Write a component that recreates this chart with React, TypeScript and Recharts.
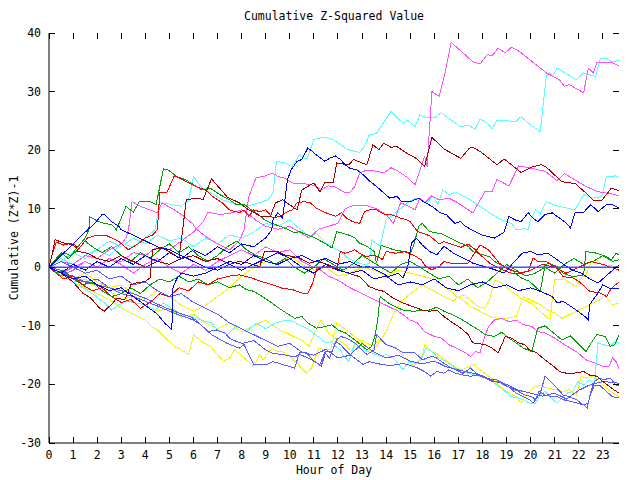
import React from 'react';
import { LineChart, Line, XAxis, YAxis } from 'recharts';

type P = [number, number];

const hourTicks = [0, 1, 2, 3, 4, 5, 6, 7, 8, 9, 10, 11, 12, 13, 14, 15, 16, 17, 18, 19, 20, 21, 22, 23];
const valueTicks = [-30, -20, -10, 0, 10, 20, 30, 40];
const X_MAX = 23.67;

const cyan1: P[] = [[0,0],[0.5,1.5],[1,0.5],[1.5,2],[2,3],[2.5,2],[3,4],[3.5,3.5],[4,5],[4.4,6.4],[4.6,11],[5,10.8],[5.5,10.4],[5.8,11.5],[6,15.5],[6.3,13.8],[6.7,12.7],[7.2,11.5],[7.6,11],[7.9,10.7],[8.3,10.5],[8.7,11],[9.1,11.5],[9.3,12.7],[9.45,18.1],[9.8,17.8],[10.1,17.2],[10.4,19.2],[10.7,18.4],[11,21.8],[11.4,22.2],[11.8,21.8],[12.4,20.1],[12.9,19.6],[13.1,20.6],[13.3,22.6],[13.6,22.9],[14.2,26.6],[14.7,24.6],[14.9,25.1],[15.2,24],[15.4,26],[15.7,25.5],[16,25.5],[16.3,26.4],[16.5,25.7],[17.1,24],[17.4,24.3],[17.7,23.6],[17.9,25.3],[18.2,24.6],[18.4,23.6],[18.6,25.1],[19.4,24.9],[19.6,25.7],[20,24.3],[20.4,23.2],[20.65,32.6],[20.8,33.2],[20.9,32.6],[21.1,34],[21.9,32],[22.2,33.2],[22.4,32.9],[22.7,32.6],[22.9,35.7],[23.15,35.7],[23.35,35.1],[23.67,35.3]];
const magenta1: P[] = [[0,0],[0.5,1],[1,0.5],[1.5,2],[2,1.5],[2.5,3],[3,4],[3.2,5],[3.3,6.4],[3.45,11.2],[3.8,10.4],[4.5,9.3],[4.7,11],[5.2,9.8],[5.6,8.7],[5.95,7.5],[6.15,6.4],[6.6,5],[7,4],[7.5,3],[7.9,4.5],[8.1,6.4],[8.3,12.1],[8.6,15.3],[8.9,15.5],[9.3,16.1],[9.5,15.5],[9.8,15.2],[10.1,14.4],[10.5,14.3],[10.9,14.1],[11.1,13.8],[11.3,13.2],[11.6,13.9],[11.9,13.7],[12.3,12.7],[12.5,12.8],[12.7,13.8],[12.9,16.1],[13.2,16.6],[13.6,16.4],[13.9,16.1],[14.2,17],[14.5,16.4],[14.9,15.3],[15.2,14.1],[15.4,16.6],[15.6,18.9],[15.7,17.2],[15.9,30],[16.2,29.2],[16.45,33.2],[16.7,38.4],[17.6,35.1],[17.9,34.7],[18.2,36.3],[18.4,36.1],[18.65,37.4],[18.95,36.6],[19.2,37.6],[19.55,36.8],[20.65,33.2],[21.2,32],[21.4,30.9],[21.6,31.2],[22.2,29.8],[22.4,34],[22.6,33.2],[22.75,34.9],[23.4,34.9],[23.67,34.4]];
const darkred1: P[] = [[0,0],[0.5,-1],[1,-2.5],[1.4,-4.4],[1.75,-5.3],[2.1,-7],[2.3,-7.5],[2.65,-6.1],[2.8,-5.3],[3.15,-5.5],[3.4,-3],[3.6,-2.7],[4,-2.4],[4.2,-1.8],[4.3,3],[4.7,3.3],[5.1,2.4],[5.4,1.6],[5.55,6.4],[5.7,11.5],[6.1,11.8],[6.4,11.6],[6.75,15.1],[7.4,12],[7.9,11],[8.3,9.8],[8.8,8.7],[9.2,8.7],[9.4,11],[9.7,11.5],[10.3,9.8],[10.5,13.2],[11,14.4],[11.25,12.9],[11.45,14.4],[11.8,14.4],[11.95,17.8],[12.45,17.5],[12.65,18.4],[13.2,17.5],[13.45,20.9],[13.7,20.1],[13.9,21.2],[14.2,20.5],[14.45,20.6],[14.85,19.5],[15.25,18.6],[15.6,17.2],[15.9,22.2],[16.4,20.2],[17.1,18.6],[17.45,20.3],[17.6,20.5],[18,19.5],[18.6,17.5],[18.9,18.5],[19.6,16.2],[20.1,17.2],[20.45,17.5],[20.65,17.1],[21.3,14.6],[21.85,14.3],[22.4,12.3],[22.6,11.4],[22.95,11.4],[23.35,13.5],[23.67,13.1]];
const darkred2: P[] = [[0,0],[0.15,2.5],[0.25,4.7],[0.65,4.1],[1.1,3.8],[1.2,2.7],[1.6,2.4],[2,1.5],[2.5,1],[3,2],[3.5,1],[4,0],[4.5,1],[5,0.5],[5.5,1.5],[6,2],[6.5,1],[7,1.5],[7.5,0.5],[7.9,1],[8.3,0.7],[8.75,0.1],[8.95,2.7],[9.5,2.7],[9.8,2.1],[10.4,1.6],[10.8,0.7],[11.1,1],[11.4,0.7],[11.8,0.1],[12.2,-0.7],[12.9,-1.6],[13.3,-3.3],[13.6,-3.8],[13.9,-4.1],[14.3,-5.3],[14.7,-6.1],[15.1,-6.7],[15.5,-7.3],[15.8,-7.5],[16.1,-7.3],[16.4,-8.4],[16.7,-9.3],[17,-10.1],[17.2,-10.7],[17.4,-11.5],[17.6,-12.9],[18.1,-13.2],[18.4,-13.8],[18.65,-14.6],[18.95,-11.8],[19.2,-12.1],[19.5,-12.9],[19.75,-13.2],[19.95,-14.1],[20.25,-14.6],[20.6,-15.8],[20.95,-16.9],[21.2,-17.8],[21.5,-18.1],[21.75,-18.1],[22.2,-17.8],[22.45,-18.4],[22.75,-18.6],[23,-19.5],[23.35,-20.6],[23.67,-21.5]];
const cyan2: P[] = [[0,0],[0.5,1],[1,2.5],[1.5,1.5],[2,3],[2.5,4.5],[3,3.5],[3.5,5],[4,4],[4.5,5.5],[5,4.5],[5.5,5],[6,3.5],[6.5,5],[7,4],[7.5,5.5],[8,5],[8.5,6],[9,7.5],[9.5,7],[10,8.1],[10.2,7.3],[10.8,5.3],[11.1,5.8],[11.5,4.1],[12.1,2.7],[12.4,1.6],[12.7,1],[13.1,0.4],[13.3,0.7],[13.4,4.7],[13.75,3.6],[14,8.1],[14.2,8.7],[14.9,11],[15.2,11.8],[15.4,11.8],[15.7,11],[15.95,12.2],[16.15,10.7],[16.35,13.2],[16.6,12.4],[16.9,12.8],[17.5,11.5],[17.9,10.4],[18.4,9],[18.8,8.1],[19.2,7.5],[19.4,6.4],[19.6,6.4],[19.7,6.7],[19.9,6.4],[20,8.1],[20.2,9.8],[20.4,9.1],[20.65,11.2],[20.95,10.7],[21.2,10.4],[21.85,9.8],[22.2,12.4],[22.6,11.8],[22.95,12.1],[23.15,15.5],[23.55,15.6],[23.67,15.3]];
const magenta2: P[] = [[0,0],[0.5,-1],[1,0],[1.5,1],[2,0],[2.5,1.5],[3,1],[3.5,2.5],[4,2],[4.5,3.5],[5,3],[5.5,4.5],[6,6],[6.4,7.8],[6.6,9.4],[7.1,9],[7.6,9.3],[8,9.8],[8.3,9],[8.6,8],[9,7],[9.5,6.5],[10,7],[10.4,6],[10.8,5],[11.2,6.5],[11.6,7],[12,7.5],[12.3,10],[12.6,10.5],[13.2,10.5],[13.6,10],[14,9],[14.3,7.5],[14.6,11],[14.9,10.5],[15.2,9.8],[15.4,11.8],[15.6,11],[15.9,12.2],[16.2,11.5],[16.6,11.8],[16.9,11.2],[17.6,9.3],[18.1,12.9],[18.4,12.9],[18.6,15],[19.1,13.9],[19.5,17.3],[19.8,17.1],[20.6,16.4],[21.1,14.8],[21.4,16],[22.1,14.3],[22.3,13.8],[22.8,12.9],[23.4,12.5],[23.67,12.2]];
const blue1: P[] = [[0,0],[0.5,-1],[1,0.5],[1.5,-0.5],[2,1],[2.5,0],[3,1.5],[3.5,0.5],[4,2],[4.5,1],[5,2.5],[5.5,1.5],[6,3],[6.5,2],[7,3.5],[7.5,2.5],[8,4],[8.5,3.5],[9,5],[9.25,6.4],[9.3,8.1],[9.5,9.3],[9.7,8.4],[9.9,14.9],[10.05,16.6],[10.3,18.1],[10.5,18.4],[10.75,20.4],[11.1,19.2],[11.45,18.1],[11.65,18.6],[11.9,19],[12.1,18.4],[12.3,17.5],[12.5,16.9],[12.8,16.6],[13.05,15.8],[13.35,14.6],[13.6,13.8],[13.9,12.7],[14.15,11.8],[14.45,12.1],[14.65,11.2],[15,11.2],[15.35,11.8],[15.55,11.2],[15.9,10.4],[16.25,9.3],[16.5,9],[16.85,7.5],[17.1,7.8],[17.3,7],[17.5,6.5],[18,5.5],[18.5,5],[18.9,6],[19.1,8.7],[19.35,8.1],[19.6,7.8],[19.9,9.3],[20.1,8.4],[20.3,7.8],[20.6,9],[20.9,9.3],[21.2,8.4],[21.5,7.5],[21.65,6.7],[21.85,9.4],[22.2,9.4],[22.5,10.7],[22.8,9.5],[23.15,10.7],[23.4,10.7],[23.67,10.1]];
const red1: P[] = [[0,0],[0.15,2.5],[0.3,4.3],[0.6,3.8],[0.9,4.1],[1.2,3],[1.6,5],[2,5.5],[2.4,5.4],[2.9,4.4],[3.3,3],[3.7,4],[4,5],[4.3,5.5],[4.5,6.4],[4.6,12.7],[4.9,12.8],[5.2,15.6],[5.45,15.2],[5.7,14.6],[6.1,13.8],[6.5,13.2],[6.8,12.1],[7.2,11],[7.5,9.8],[7.9,9.3],[8.1,9.8],[8.3,8.7],[8.5,9.8],[8.75,9.5],[9,9.8],[9.3,8.4],[9.6,8.7],[9.9,9.5],[10.1,9.8],[10.3,11],[10.6,11.2],[10.85,11],[11.1,10.1],[11.5,9.3],[11.9,8.7],[12.15,9.3],[12.35,8.4],[12.6,7.8],[12.9,7.5],[13.1,9.5],[13.3,9.8],[13.6,9.8],[13.95,9],[14.2,9],[14.6,8.4],[14.85,8.1],[15,7.8],[15.3,6.1],[15.8,5.4],[16.2,4],[16.4,4.4],[17.1,3.4],[17.4,4],[17.7,3],[18,1.8],[18.3,0.7],[18.8,-0.4],[19.2,-1],[19.6,-1],[20,-0.5],[20.5,0.5],[21,0],[21.5,-1],[22,0],[22.5,1],[23,0.5],[23.67,-0.5]];
const red2: P[] = [[0,0],[0.3,-1],[0.6,-2],[1,-1.5],[1.4,-3],[1.8,-4],[2.2,-3.5],[2.6,-5],[3,-6],[3.4,-5.5],[3.8,-7],[4.2,-6],[4.6,-4.5],[5,-5],[5.4,-3.5],[5.8,-4],[6.2,-2.5],[6.6,-3],[7,-2],[7.5,-1.5],[7.9,-1.3],[8.4,-1.8],[8.8,-2.4],[9.3,-3],[9.7,-3.6],[10.1,-3.8],[10.5,-4.4],[10.75,-4.4],[10.95,-2.7],[11.1,-0.4],[11.3,-0.1],[11.6,0.1],[11.95,-0.4],[12.1,2.7],[12.3,2.4],[12.55,2.7],[12.7,3],[12.9,2.4],[13.2,1.8],[13.45,2.1],[13.65,1.8],[13.85,1.3],[14,2.7],[14.4,2.4],[14.8,2.7],[15.25,1.8],[15.45,1.3],[15.65,0.1],[15.9,-0.4],[16.2,0.1],[16.4,1],[16.7,0.7],[17.4,0.7],[17.9,3.8],[18.25,3],[18.7,0.7],[19.1,-0.4],[19.55,-0.9],[19.9,-0.7],[20.1,1.6],[20.3,1],[20.65,1],[20.85,0.4],[21.05,0.1],[21.35,-1.6],[21.75,-1.8],[22,-2.4],[22.25,-3.3],[22.45,-4.1],[22.9,-4.4],[23.15,-5],[23.35,-3.6],[23.67,-2.5]];
const blue2: P[] = [[0,0],[0.5,2],[1,4],[1.5,6],[1.9,7.5],[2.2,9],[2.3,9],[2.6,7.8],[2.9,7],[3,6.4],[3.5,5.5],[4,4.5],[4.5,3.5],[5,3],[5.5,2],[6,1],[6.5,0],[7,-0.5],[7.5,0.5],[8,-0.5],[8.5,0.5],[9,1.5],[9.5,2.5],[10,1.5],[10.5,2],[11,1],[11.5,1.5],[12,0.5],[12.5,1],[13,0],[13.3,0.1],[13.7,-0.7],[14.1,-1.6],[14.5,-1],[14.7,-1.8],[14.9,0.1],[15.05,4.1],[15.25,5],[15.5,3.8],[15.8,2.7],[16.1,2.1],[16.4,3.6],[16.8,2.4],[17.2,1.6],[17.6,0.7],[18.1,0.1],[18.5,-0.4],[18.9,-1],[19.2,0.4],[19.65,2.4],[20,2.7],[20.3,2.1],[20.7,2.4],[21,1.6],[21.4,0.4],[21.7,-0.4],[22.1,-1],[22.5,-2.1],[22.8,-2.7],[23.1,-1.6],[23.35,-0.7],[23.67,0.4]];
const blue3: P[] = [[0,0],[0.5,-1],[1,-2],[1.5,-1.5],[2,-3],[2.5,-4],[3,-3.5],[3.5,-5],[4,-6.5],[4.5,-8],[4.8,-9.5],[5.1,-10.7],[5.15,-3.5],[5.3,-2],[5.5,-1],[6,-1.5],[6.5,-1],[7,0],[7.5,1],[8,0.5],[8.5,2],[9,1],[9.5,0.5],[10,1.5],[10.5,0],[11,-1],[11.5,0.5],[12,-0.5],[12.5,-1],[13,-0.5],[13.5,-2],[14,-1.5],[14.5,-3],[15,-2.5],[15.5,-3],[16,-2],[16.5,-3.5],[17,-4],[17.5,-3],[18,-2.5],[18.5,-3.5],[19,-3],[19.5,-4],[20,-3.5],[20.4,-4.1],[20.9,-5],[21.1,-6.1],[21.35,-5.8],[21.9,-7.3],[22.25,-8.4],[22.4,-9],[22.45,-6.4],[22.6,-5.5],[22.75,-4.7],[23,-3],[23.3,-3.6],[23.67,-3.6]];
const green1: P[] = [[0,0],[0.3,1.5],[0.6,2.5],[0.9,2],[1.2,3.5],[1.5,5],[1.65,6.4],[1.7,8.6],[2.05,7.8],[2.3,7.5],[2.6,7.3],[2.8,6.4],[3.2,10.4],[3.5,9.4],[3.75,11.2],[4.2,11.2],[4.45,10.7],[4.75,16.8],[4.95,16.6],[5.3,15.5],[5.7,14.9],[6,14.1],[6.35,13.2],[6.7,13.5],[7.1,12.4],[7.5,11.5],[7.75,10.8],[8.1,10.8],[8.4,9.8],[8.7,9],[8.95,8.1],[9.25,7.5],[9.6,7],[9.95,6.4],[10.2,5.9],[10.4,6.1],[10.75,5.5],[11.05,5],[11.45,4.1],[11.75,3.3],[11.95,6.1],[12.45,5.5],[12.7,5],[12.9,4.1],[13.2,3.6],[13.5,2.7],[13.6,0.7],[13.8,3.8],[13.9,3.6],[14.3,3],[14.7,2.7],[15,2.4],[15.15,3.8],[15.35,7],[15.5,7.5],[15.8,6.1],[16.3,5.7],[16.85,4.6],[17.1,4.1],[17.4,3.6],[17.6,2.7],[17.8,2.4],[18.3,1.8],[18.5,1],[18.9,0.1],[19.2,-0.4],[19.6,-1.8],[19.95,-2.4],[20.4,-4.1],[20.6,0.4],[20.75,0.7],[21.1,0.1],[21.35,-1],[21.75,-1.6],[22.2,-1.3],[22.3,2.7],[22.75,2.4],[23.15,1.8],[23.35,1.3],[23.55,2.4],[23.67,2.1]];
const green2: P[] = [[0,0],[0.3,-1],[0.6,-0.5],[1,-2],[1.4,-3],[1.8,-2.5],[2.2,-4],[2.6,-5],[3,-4.5],[3.4,-3.5],[3.8,-4.5],[4.2,-3],[4.6,-2],[5,-2.5],[5.4,-1.5],[5.8,-2.5],[6.2,-2],[6.6,-3],[7,-2.5],[7.5,-3.5],[7.9,-3],[8.2,-3.8],[8.5,-4.1],[8.75,-4.7],[9.05,-5.5],[9.45,-6.7],[9.85,-7.8],[10.2,-8.7],[10.5,-8.4],[10.75,-9.5],[11.1,-10.4],[11.5,-10.1],[11.75,-9.8],[12,-10.7],[12.3,-11.2],[12.6,-12.1],[12.85,-12.9],[13.2,-14.1],[13.4,-13.5],[13.55,-11.5],[13.65,-9],[13.75,-5],[14.1,-6.1],[14.35,-6.7],[14.7,-7.3],[15.1,-7.5],[15.8,-7.3],[16.1,-6.8],[16.4,-7.5],[16.75,-8.1],[17.05,-8.7],[17.3,-9.3],[17.6,-10.1],[17.85,-10.7],[18.1,-11.5],[18.5,-11.8],[18.8,-11.1],[19.1,-12.1],[19.5,-13.2],[19.7,-13.8],[20.05,-14.4],[20.3,-10.4],[20.6,-10],[20.95,-11.2],[21.3,-12.4],[21.65,-11.7],[21.9,-12.7],[22.3,-14.4],[22.55,-12.7],[22.75,-11.5],[23.1,-11.8],[23.3,-13.5],[23.5,-13.2],[23.67,-11.5]];
const green3: P[] = [[0,0],[0.3,1.5],[0.5,2.5],[0.8,1.5],[1.2,3],[1.5,4.5],[1.8,3.5],[2.2,2.5],[2.6,3.5],[3,2],[3.4,1],[3.8,2.5],[4.2,1.5],[4.6,3],[5,4],[5.4,2.5],[5.8,3.5],[6.2,2],[6.6,1],[7,2],[7.4,3.5],[7.8,4.5],[8.2,3],[8.6,2],[9,1.5],[9.4,0.5],[9.8,1.5],[10.2,0],[10.6,-1],[11,0],[11.4,1.5],[11.8,0.5],[12.2,-0.5],[12.6,0.5],[13,2],[13.4,1],[13.8,0],[14.2,-1],[14.6,0.5],[15,1],[15.4,0],[15.8,-1],[16.2,-2],[16.6,-1.5],[17,-3],[17.4,-2],[17.8,-3.5],[18.2,-2.5],[18.6,-1],[19,0.5],[19.4,-0.5],[19.8,-1.5],[20.2,-1],[20.6,0],[21,-1],[21.4,0.5],[21.8,1.5],[22.2,0.5],[22.6,1],[23,2],[23.4,1],[23.67,1.3]];
const cyan3: P[] = [[0,0],[0.3,-1],[0.7,-1.5],[1,-2.5],[1.4,-3.5],[1.8,-4.5],[2.05,-5.3],[2.3,-6.1],[2.6,-7.3],[2.9,-6.4],[3.3,-5.8],[3.6,-6.1],[4,-6.4],[4.4,-7.3],[4.75,-6.1],[5.1,-7],[5.5,-8.1],[5.9,-8.4],[6.3,-9],[6.75,-9.5],[7,-10.7],[7.4,-11.5],[7.8,-10],[8.2,-11],[8.6,-9.5],[9,-10.5],[9.4,-9.5],[9.9,-9],[10.2,-9.3],[10.35,-9.8],[10.7,-10.4],[10.9,-11],[11.25,-12.1],[11.5,-12.9],[11.75,-12.7],[11.9,-13.5],[12.1,-14.1],[12.2,-14.9],[12.45,-16.1],[12.7,-12.9],[12.9,-13.8],[13.25,-14.4],[13.45,-14.7],[13.75,-15.2],[14,-14.9],[14.3,-15.5],[14.7,-17.5],[14.95,-16.1],[15.2,-16.4],[15.45,-15.8],[15.65,-13.8],[15.9,-14.4],[16.2,-15.5],[16.5,-16.1],[16.85,-17.2],[17.1,-17.5],[17.4,-18.1],[17.9,-18.6],[18.3,-19.2],[18.6,-20.1],[18.85,-20.9],[19.2,-22.1],[19.45,-22.3],[19.7,-22.6],[19.95,-23.2],[20.2,-23.2],[20.4,-21.8],[20.6,-21.2],[20.85,-22.3],[21.1,-23.2],[21.5,-21.5],[21.75,-21.2],[21.95,-19.5],[22.2,-20.1],[22.45,-19.2],[22.65,-19.8],[22.8,-12.9],[23,-13.2],[23.3,-13.5],[23.5,-12.7],[23.67,-12.9]];
const magenta3: P[] = [[0,0],[0.5,-1.5],[1,-0.5],[1.5,1],[2,0],[2.5,1.5],[3,0.5],[3.5,-1],[4,0.5],[4.5,1.5],[5,0],[5.5,-1],[6,0.5],[6.5,-0.5],[7,1],[7.5,2],[8,3],[8.5,2],[9,3.5],[9.5,2.5],[10,3],[10.5,1],[11,0],[11.3,-0.5],[11.6,-1.5],[12,-2.2],[12.5,-3.5],[13,-4.5],[13.5,-5.5],[14,-6.5],[14.5,-7.5],[15,-9],[15.3,-9.5],[15.6,-11],[16,-11.8],[16.3,-12.1],[16.6,-13.2],[16.9,-13.8],[17.3,-14.6],[17.5,-15.2],[17.7,-14.4],[17.9,-14.6],[18.05,-12.4],[18.25,-10.1],[18.5,-9],[18.8,-8.7],[19.1,-9.3],[19.4,-9],[19.7,-9.8],[20.05,-10.1],[20.3,-11],[20.6,-11.2],[21,-12.1],[21.4,-13.2],[21.9,-14.4],[22.3,-15.8],[22.7,-16.4],[23,-16.9],[23.25,-16.9],[23.4,-15.5],[23.55,-16.1],[23.67,-17.3]];
const yellow1: P[] = [[0,0],[0.5,-1],[1,-2],[1.5,-1],[2,-2.5],[2.5,-3.5],[3,-3],[3.5,-4.5],[4,-5.5],[4.5,-4],[5,-5],[5.5,-6.5],[6,-7.5],[6.5,-6.5],[7,-5],[7.5,-3.5],[8,-1.5],[8.5,0],[9,1],[9.5,0.5],[10,2],[10.5,0.5],[11,-0.5],[11.5,0],[12,-1.5],[12.5,-1],[13,0],[13.5,-0.5],[14,-1.5],[14.5,-0.5],[15,-1],[15.5,-1.5],[16,-2.1],[16.4,-3.3],[16.8,-4.4],[16.95,-5.3],[17.2,-4.7],[17.5,-5.6],[17.8,-6.7],[18.1,-7],[18.3,-5.5],[18.5,-2.1],[18.8,-2.7],[19.2,-4.1],[19.6,-5.3],[20,-6.1],[20.4,-7.5],[20.8,-9],[21,-2.1],[21.4,-2.1],[21.9,-3.3],[22.05,-2.1],[22.3,-1.3],[22.5,0.7],[22.7,1.3],[23,0.4],[23.67,0.1]];
const yellow2: P[] = [[0,0],[0.5,-1.5],[1,-2.5],[1.5,-2],[2,-3.5],[2.5,-4],[3,-5.5],[3.5,-5],[4,-6.5],[4.5,-7.5],[5,-7],[5.5,-8.5],[6,-8],[6.5,-9.5],[7,-10.5],[7.5,-9.5],[8,-11],[8.5,-10],[9,-9],[9.5,-10.5],[10,-11.5],[10.5,-12.5],[10.8,-13.5],[11,-11.5],[11.3,-9],[11.6,-11.2],[12,-12.4],[12.3,-13.2],[12.6,-14.4],[12.8,-12.7],[13,-12.4],[13.3,-13.2],[13.6,-13.5],[14,-11],[14.3,-8],[14.6,-6],[15,-4.5],[15.5,-3],[16,-4.1],[16.4,-5],[16.8,-5.8],[16.95,-5],[17.2,-5.6],[17.5,-6.7],[17.8,-7.3],[18.3,-8.4],[18.6,-8.7],[19,-8.7],[19.4,-8.4],[19.7,-5],[20,-5.6],[20.4,-6.4],[20.7,-7.3],[21,-7.8],[21.3,-8.7],[21.6,-8.1],[22,-7.3],[22.3,-6.7],[22.6,-6.1],[22.9,-5.5],[23.1,-4.7],[23.35,-6.4],[23.67,-6.1]];
const yellow3: P[] = [[0,0],[0.5,-1],[1,-2.5],[1.5,-3.5],[2,-4.5],[2.5,-5.5],[3,-7],[3.5,-8],[4,-9],[4.25,-10.1],[4.5,-10.7],[5.2,-13.5],[5.5,-14.1],[5.8,-14.9],[6,-11.5],[6.35,-12.7],[6.7,-13.5],[7.25,-16.1],[7.5,-15.5],[7.7,-14.1],[7.9,-14.7],[8.5,-16.9],[8.75,-14.9],[8.9,-15.8],[9.25,-13.8],[9.5,-14.4],[9.7,-14.4],[10,-15.2],[10.35,-16.6],[10.7,-18.1],[10.9,-17.2],[11.2,-13.8],[11.5,-14.1],[11.7,-14.1],[11.95,-9.5],[12.5,-11.2],[12.85,-12.4],[13.1,-13.2],[13.4,-14.4],[13.6,-12.7],[13.75,-12.4],[14,-13.2],[14.3,-13.5],[14.8,-15.5],[15.15,-16.9],[15.5,-15.2],[15.6,-13.2],[15.9,-14.4],[16.1,-14.7],[16.35,-15.5],[16.65,-16.4],[16.9,-17.2],[17.2,-17.5],[17.45,-16.9],[17.65,-16.6],[17.9,-17.5],[18.2,-18.4],[18.45,-19.2],[18.75,-20.4],[19,-21.2],[19.4,-22.1],[19.6,-23.2],[19.8,-21.8],[20.1,-20.6],[20.4,-20.1],[20.65,-20.6],[21.05,-20.9],[21.35,-21.2],[21.6,-20.9],[21.9,-21.8],[22.1,-18.6],[22.3,-18.9],[22.6,-18.6],[22.8,-19.2],[23,-20.1],[23.3,-21.2],[23.67,-22.1]];
const lblue1: P[] = [[0,0],[0.5,-1],[1,-1.5],[1.5,-2.5],[2,-2],[2.5,-3.5],[3,-4],[3.5,-4.5],[4,-5.3],[4.4,-6.1],[4.9,-7],[5.4,-7.8],[5.9,-8.5],[6.1,-9],[6.6,-11],[6.95,-10.7],[7.3,-11.2],[7.5,-12.1],[7.8,-12.7],[8.05,-13],[8.5,-12.5],[9,-14.1],[9.3,-14.7],[9.7,-14.9],[10.2,-15.3],[10.4,-14.9],[10.6,-15.2],[10.9,-15.8],[11.25,-16.6],[11.45,-14.6],[11.65,-15.5],[11.95,-12.4],[12.1,-11.8],[12.35,-12.1],[12.7,-12.9],[13.2,-14.9],[13.5,-14.1],[13.6,-11.5],[14,-13.2],[14.4,-13.8],[14.7,-14.6],[15.2,-14.6],[15.5,-15.8],[15.9,-15.2],[16.1,-15.5],[16.4,-16.4],[16.6,-16.9],[16.9,-17.5],[17.2,-18.1],[17.5,-17.2],[17.75,-18.1],[18,-18.6],[18.4,-19.2],[18.6,-19.2],[18.85,-19.8],[19.15,-20.6],[19.4,-21.5],[19.7,-22.1],[19.95,-22.6],[20.1,-23.2],[20.4,-21.5],[20.6,-18.6],[20.9,-19.8],[21.15,-20.9],[21.35,-21.8],[21.6,-22.1],[21.9,-22.6],[22.2,-23.5],[22.35,-24],[22.45,-22.1],[22.65,-20.1],[22.85,-20.1],[23.15,-21.2],[23.4,-22.1],[23.67,-22.3]];
const lblue2: P[] = [[0,0],[0.5,-0.5],[1,-2],[1.5,-2.5],[2,-3],[2.5,-3.5],[3,-4.5],[3.5,-5],[4,-5.8],[4.5,-6.6],[5,-7.5],[5.5,-8.3],[6,-9],[6.3,-9.8],[6.75,-11.5],[7.4,-13],[7.9,-13.8],[8.1,-13.2],[8.5,-16.6],[9.05,-16.6],[9.3,-16.1],[9.7,-16.6],[10.2,-17.2],[10.4,-14.6],[10.7,-14.6],[10.95,-15.8],[11.3,-16.9],[11.5,-14.4],[11.75,-14.4],[11.9,-12.7],[12.1,-13.2],[12.5,-14.9],[13.05,-16.6],[13.3,-16.1],[13.7,-16.5],[14.2,-16.8],[14.7,-16.4],[15.2,-17],[15.6,-17.8],[15.85,-18.6],[16.1,-17.8],[16.4,-18.1],[16.6,-17.5],[16.9,-18.1],[17.2,-18.4],[17.5,-18.6],[17.8,-18.4],[18.1,-18.9],[18.4,-19.5],[18.65,-19.5],[18.9,-20.1],[19.2,-20.6],[19.5,-21.2],[19.75,-21.8],[20.05,-22.1],[20.2,-22.6],[20.35,-21.2],[20.6,-21.8],[20.9,-22.1],[21.1,-22.1],[21.35,-22.6],[21.65,-22.9],[21.95,-23.2],[22.2,-23.5],[22.4,-23.2],[22.5,-21.2],[22.65,-19.5],[22.85,-18.9],[23.05,-19.2],[23.3,-18.9],[23.55,-20.1],[23.67,-20.1]];
const lblue3: P[] = [[0,0],[0.5,1],[1,0],[1.5,-1],[2,-0.5],[2.5,-2],[3,-1.5],[3.5,-3],[4,-2.5],[4.5,-4],[5,-5],[5.5,-4.5],[6,-6],[6.5,-7],[7,-8],[7.5,-9.5],[8,-10.5],[8.5,-11.5],[9,-12.5],[9.5,-13.5],[10,-13],[10.5,-14.5],[11,-15],[11.5,-14],[12,-15.5],[12.5,-15],[13,-13],[13.5,-14.5],[14,-15.5],[14.5,-15],[15,-16],[15.5,-16.5],[16,-16],[16.5,-17],[17,-17.5],[17.5,-18],[18,-18.5],[18.5,-19.5],[19,-20],[19.5,-21],[20,-21.5],[20.5,-22],[21,-21.5],[21.5,-22.5],[22,-21],[22.5,-20],[23,-19.5],[23.67,-19.8]];
const zeroLine: P[] = [[0, 0], [X_MAX, 0]];

const RED = '#ff0000';
const DARKRED = '#a00000';
const GREEN = '#00a000';
const BLUE = '#0000ff';
const LBLUE = '#5a5aff';
const ZERO = '#4d4dff';
const MAGENTA = '#ff50ff';
const CYAN = '#55ffff';
const YELLOW = '#f4f400';

const series: { id: string; color: string; pts: P[]; w: number }[] = [
  { id: 'y1', color: YELLOW, pts: yellow1, w: 1 },
  { id: 'y2', color: YELLOW, pts: yellow2, w: 1 },
  { id: 'y3', color: YELLOW, pts: yellow3, w: 1 },
  { id: 'c3', color: CYAN, pts: cyan3, w: 1 },
  { id: 'c2', color: CYAN, pts: cyan2, w: 1 },
  { id: 'c1', color: CYAN, pts: cyan1, w: 1 },
  { id: 'm3', color: MAGENTA, pts: magenta3, w: 1 },
  { id: 'm2', color: MAGENTA, pts: magenta2, w: 1 },
  { id: 'm1', color: MAGENTA, pts: magenta1, w: 1 },
  { id: 'l3', color: LBLUE, pts: lblue3, w: 1 },
  { id: 'l2', color: LBLUE, pts: lblue2, w: 1 },
  { id: 'l1', color: LBLUE, pts: lblue1, w: 1 },
  { id: 'g3', color: GREEN, pts: green3, w: 1 },
  { id: 'g2', color: GREEN, pts: green2, w: 1 },
  { id: 'g1', color: GREEN, pts: green1, w: 1 },
  { id: 'r2', color: RED, pts: red2, w: 1 },
  { id: 'r1', color: RED, pts: red1, w: 1 },
  { id: 'dr2', color: DARKRED, pts: darkred2, w: 1 },
  { id: 'dr1', color: DARKRED, pts: darkred1, w: 1 },
  { id: 'b3', color: BLUE, pts: blue3, w: 1 },
  { id: 'b2', color: BLUE, pts: blue2, w: 1 },
  { id: 'b1', color: BLUE, pts: blue1, w: 1 },
  { id: 'zero', color: ZERO, pts: zeroLine, w: 1.6 },
];

const FONT = '"DejaVu Sans Mono", "Liberation Mono", monospace';
const FS = 11.5;
const PLOT_LEFT = 49;
const PLOT_RIGHT = 619;
const PLOT_TOP = 33;
const PLOT_BOTTOM = 443;
const TICK = 6;

const XTick = (props: any) => {
  const { x, payload } = props;
  return (
    <g>
      <line x1={x} x2={x} y1={PLOT_BOTTOM} y2={PLOT_BOTTOM - TICK} stroke="#000" shapeRendering="crispEdges" />
      <line x1={x} x2={x} y1={PLOT_TOP} y2={PLOT_TOP + TICK} stroke="#000" shapeRendering="crispEdges" />
      <text x={x} y={459} textAnchor="middle" fontFamily={FONT} fontSize={FS} fill="#000">{payload.value}</text>
    </g>
  );
};

const YTick = (props: any) => {
  const { y, payload } = props;
  return (
    <g>
      <line x1={PLOT_LEFT} x2={PLOT_LEFT + TICK} y1={y} y2={y} stroke="#000" shapeRendering="crispEdges" />
      <line x1={PLOT_RIGHT} x2={PLOT_RIGHT - TICK} y1={y} y2={y} stroke="#000" shapeRendering="crispEdges" />
      <text x={41} y={y + 4} textAnchor="end" fontFamily={FONT} fontSize={FS} fill="#000">{payload.value}</text>
    </g>
  );
};

export default function App() {
  return (
    <div style={{ position: 'absolute', left: 0, top: 0, width: 640, height: 480, background: '#fff' }}>
      <LineChart width={640} height={480} margin={{ top: 33, right: 21, bottom: 0, left: 0 }}>
        <XAxis
          xAxisId="b"
          dataKey="h"
          type="number"
          domain={[0, X_MAX]}
          ticks={hourTicks}
          allowDataOverflow
          height={37}
          tickLine={false}
          axisLine={{ stroke: '#000' }}
          tick={<XTick />}
          interval={0}
        />
        <XAxis xAxisId="t" dataKey="h" type="number" orientation="top" domain={[0, X_MAX]} allowDataOverflow height={0} tick={false} tickLine={false} axisLine={{ stroke: '#000' }} />
        <YAxis
          yAxisId="l"
          type="number"
          domain={[-30, 40]}
          ticks={valueTicks}
          allowDataOverflow
          width={49}
          tickLine={false}
          axisLine={{ stroke: '#000' }}
          tick={<YTick />}
          interval={0}
        />
        <YAxis yAxisId="r" type="number" orientation="right" domain={[-30, 40]} allowDataOverflow width={0} tick={false} tickLine={false} axisLine={{ stroke: '#000' }} />
        {series.map((s) => (
          <Line
            key={s.id}
            xAxisId="b"
            yAxisId="l"
            data={s.pts.map(([h, v]) => ({ h, v }))}
            dataKey="v"
            type="linear"
            stroke={s.color}
            strokeWidth={s.w}
            dot={false}
            activeDot={false}
            isAnimationActive={false}
            shapeRendering={s.id === 'zero' ? 'auto' : 'crispEdges'}
          />
        ))}
      </LineChart>
      <svg width={640} height={480} style={{ position: 'absolute', left: 0, top: 0, pointerEvents: 'none' }}>
        <text x={334} y={20} textAnchor="middle" fontFamily={FONT} fontSize={FS} fill="#000">Cumulative Z-Squared Value</text>
        <text x={334} y={474} textAnchor="middle" fontFamily={FONT} fontSize={FS} fill="#000">Hour of Day</text>
        <text x={0} y={0} transform="translate(18,238) rotate(-90)" textAnchor="middle" fontFamily={FONT} fontSize={FS} fill="#000">Cumulative (Z*Z)-1</text>
      </svg>
    </div>
  );
}
